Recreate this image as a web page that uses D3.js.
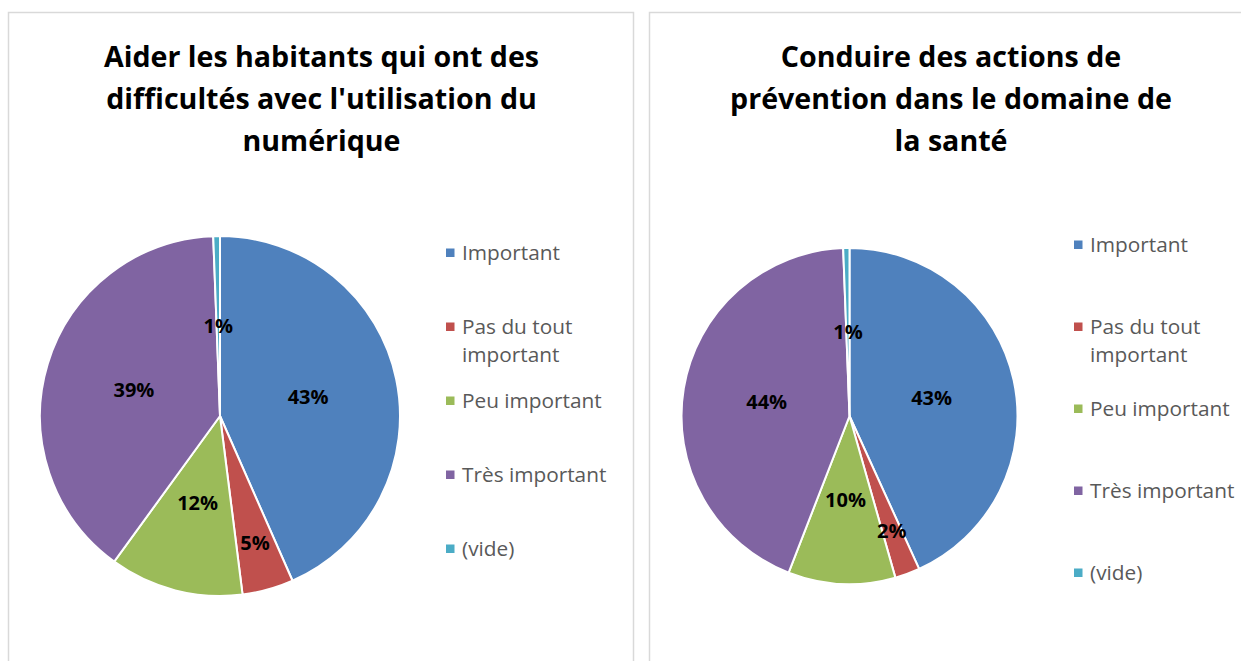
<!DOCTYPE html>
<html>
<head>
<meta charset="utf-8">
<script src="https://cdn.jsdelivr.net/npm/d3@7"></script>
<style>
  html, body { margin: 0; padding: 0; background: #ffffff; }
  svg { display: block; }
</style>
</head>
<body>
<svg id="chart" width="1241" height="661"></svg>
<script>
// ---- data ----
const categories = ["Important", "Pas du tout important", "Peu important", "Très important", "(vide)"];
const valuesNumerique = [43.4, 4.6, 12.0, 39.4, 0.6];
const valuesSante = [43.2, 2.4, 10.3, 43.5, 0.6];
const titleNumerique = ["Aider les habitants qui ont des", "difficultés avec l'utilisation du", "numérique"];
const titleSante = ["Conduire des actions de", "prévention dans le domaine de", "la santé"];
const colors = ["#4F81BD", "#C0504D", "#9BBB59", "#8064A2", "#4BACC6"];

// ---- layout ----
const svg = d3.select("#chart");
const FONT = "'Open Sans', 'Liberation Sans', sans-serif";
const color = d3.scaleOrdinal().domain(categories).range(colors);

const panels = [
  { x: 8.5, w: 625, tcx: 321.5, title: titleNumerique, values: valuesNumerique,
    cx: 220, cy: 416, r: 180, legX: 446, legRange: [253, 549] },
  { x: 649.5, w: 610, tcx: 951, title: titleSante, values: valuesSante,
    cx: 849.5, cy: 416, r: 168, legX: 1074, legRange: [245, 573] }
];

panels.forEach(p => {
  const g = svg.append("g");
  // border
  g.append("rect")
    .attr("x", p.x).attr("y", 12.5)
    .attr("width", p.w).attr("height", 700)
    .attr("fill", "#ffffff")
    .attr("stroke", "#d9d9d9").attr("stroke-width", 1.5);

  // title
  g.append("text")
    .attr("text-anchor", "middle")
    .attr("font-family", FONT).attr("font-weight", "bold")
    .attr("font-size", 28.6).attr("fill", "#000")
    .selectAll("tspan").data(p.title).join("tspan")
    .attr("x", p.tcx).attr("y", (d, i) => 67 + i * 42)
    .text(d => d);

  // pie
  const data = categories.map((c, i) => ({ cat: c, value: p.values[i] }));
  const pie = d3.pie().sort(null).value(d => d.value);
  const arcs = pie(data);
  const arc = d3.arc().innerRadius(0).outerRadius(p.r);
  const total = d3.sum(data, d => d.value);

  const pg = g.append("g").attr("transform", `translate(${p.cx},${p.cy})`);
  pg.selectAll("path").data(arcs).join("path")
    .attr("d", arc)
    .attr("fill", d => color(d.data.cat))
    .attr("stroke", "#ffffff").attr("stroke-width", 2).attr("stroke-linejoin", "round");

  pg.selectAll("text.lbl").data(arcs).join("text")
    .attr("class", "lbl")
    .attr("transform", d => {
      const pct = d.data.value / total * 100;
      const k = (pct >= 1.5 && pct < 8) ? 0.73 : 0.5;
      const a = (d.startAngle + d.endAngle) / 2;
      return `translate(${Math.sin(a) * p.r * k},${-Math.cos(a) * p.r * k})`;
    })
    .attr("text-anchor", "middle").attr("dy", "0.35em")
    .attr("font-family", FONT).attr("font-weight", "bold")
    .attr("font-size", 20).attr("fill", "#000")
    .text(d => Math.round(d.data.value / total * 100) + "%");

  // legend
  const ly = d3.scalePoint().domain(categories).range(p.legRange);
  const lg = g.append("g");
  categories.forEach(c => {
    const item = lg.append("g").attr("transform", `translate(${p.legX},${ly(c)})`);
    item.append("rect")
      .attr("x", 0).attr("y", -4.5).attr("width", 8.5).attr("height", 8.5)
      .attr("fill", color(c));
    const t = item.append("text")
      .attr("font-family", FONT).attr("font-size", 20.8).attr("fill", "#595959");
    // wrap to fit width
    const words = c.split(" ");
    const lines = [];
    let cur = "";
    const probe = item.append("text").attr("font-family", FONT).attr("font-size", 20.8).attr("visibility", "hidden");
    words.forEach(w => {
      const test = cur ? cur + " " + w : w;
      probe.text(test);
      if (probe.node().getComputedTextLength() > 152 && cur) { lines.push(cur); cur = w; }
      else cur = test;
    });
    lines.push(cur);
    probe.remove();
    t.selectAll("tspan").data(lines).join("tspan")
      .attr("x", 16).attr("y", (d, i) => i * 28).attr("dy", "0.35em")
      .text(d => d);
  });
});
</script>
</body>
</html>
